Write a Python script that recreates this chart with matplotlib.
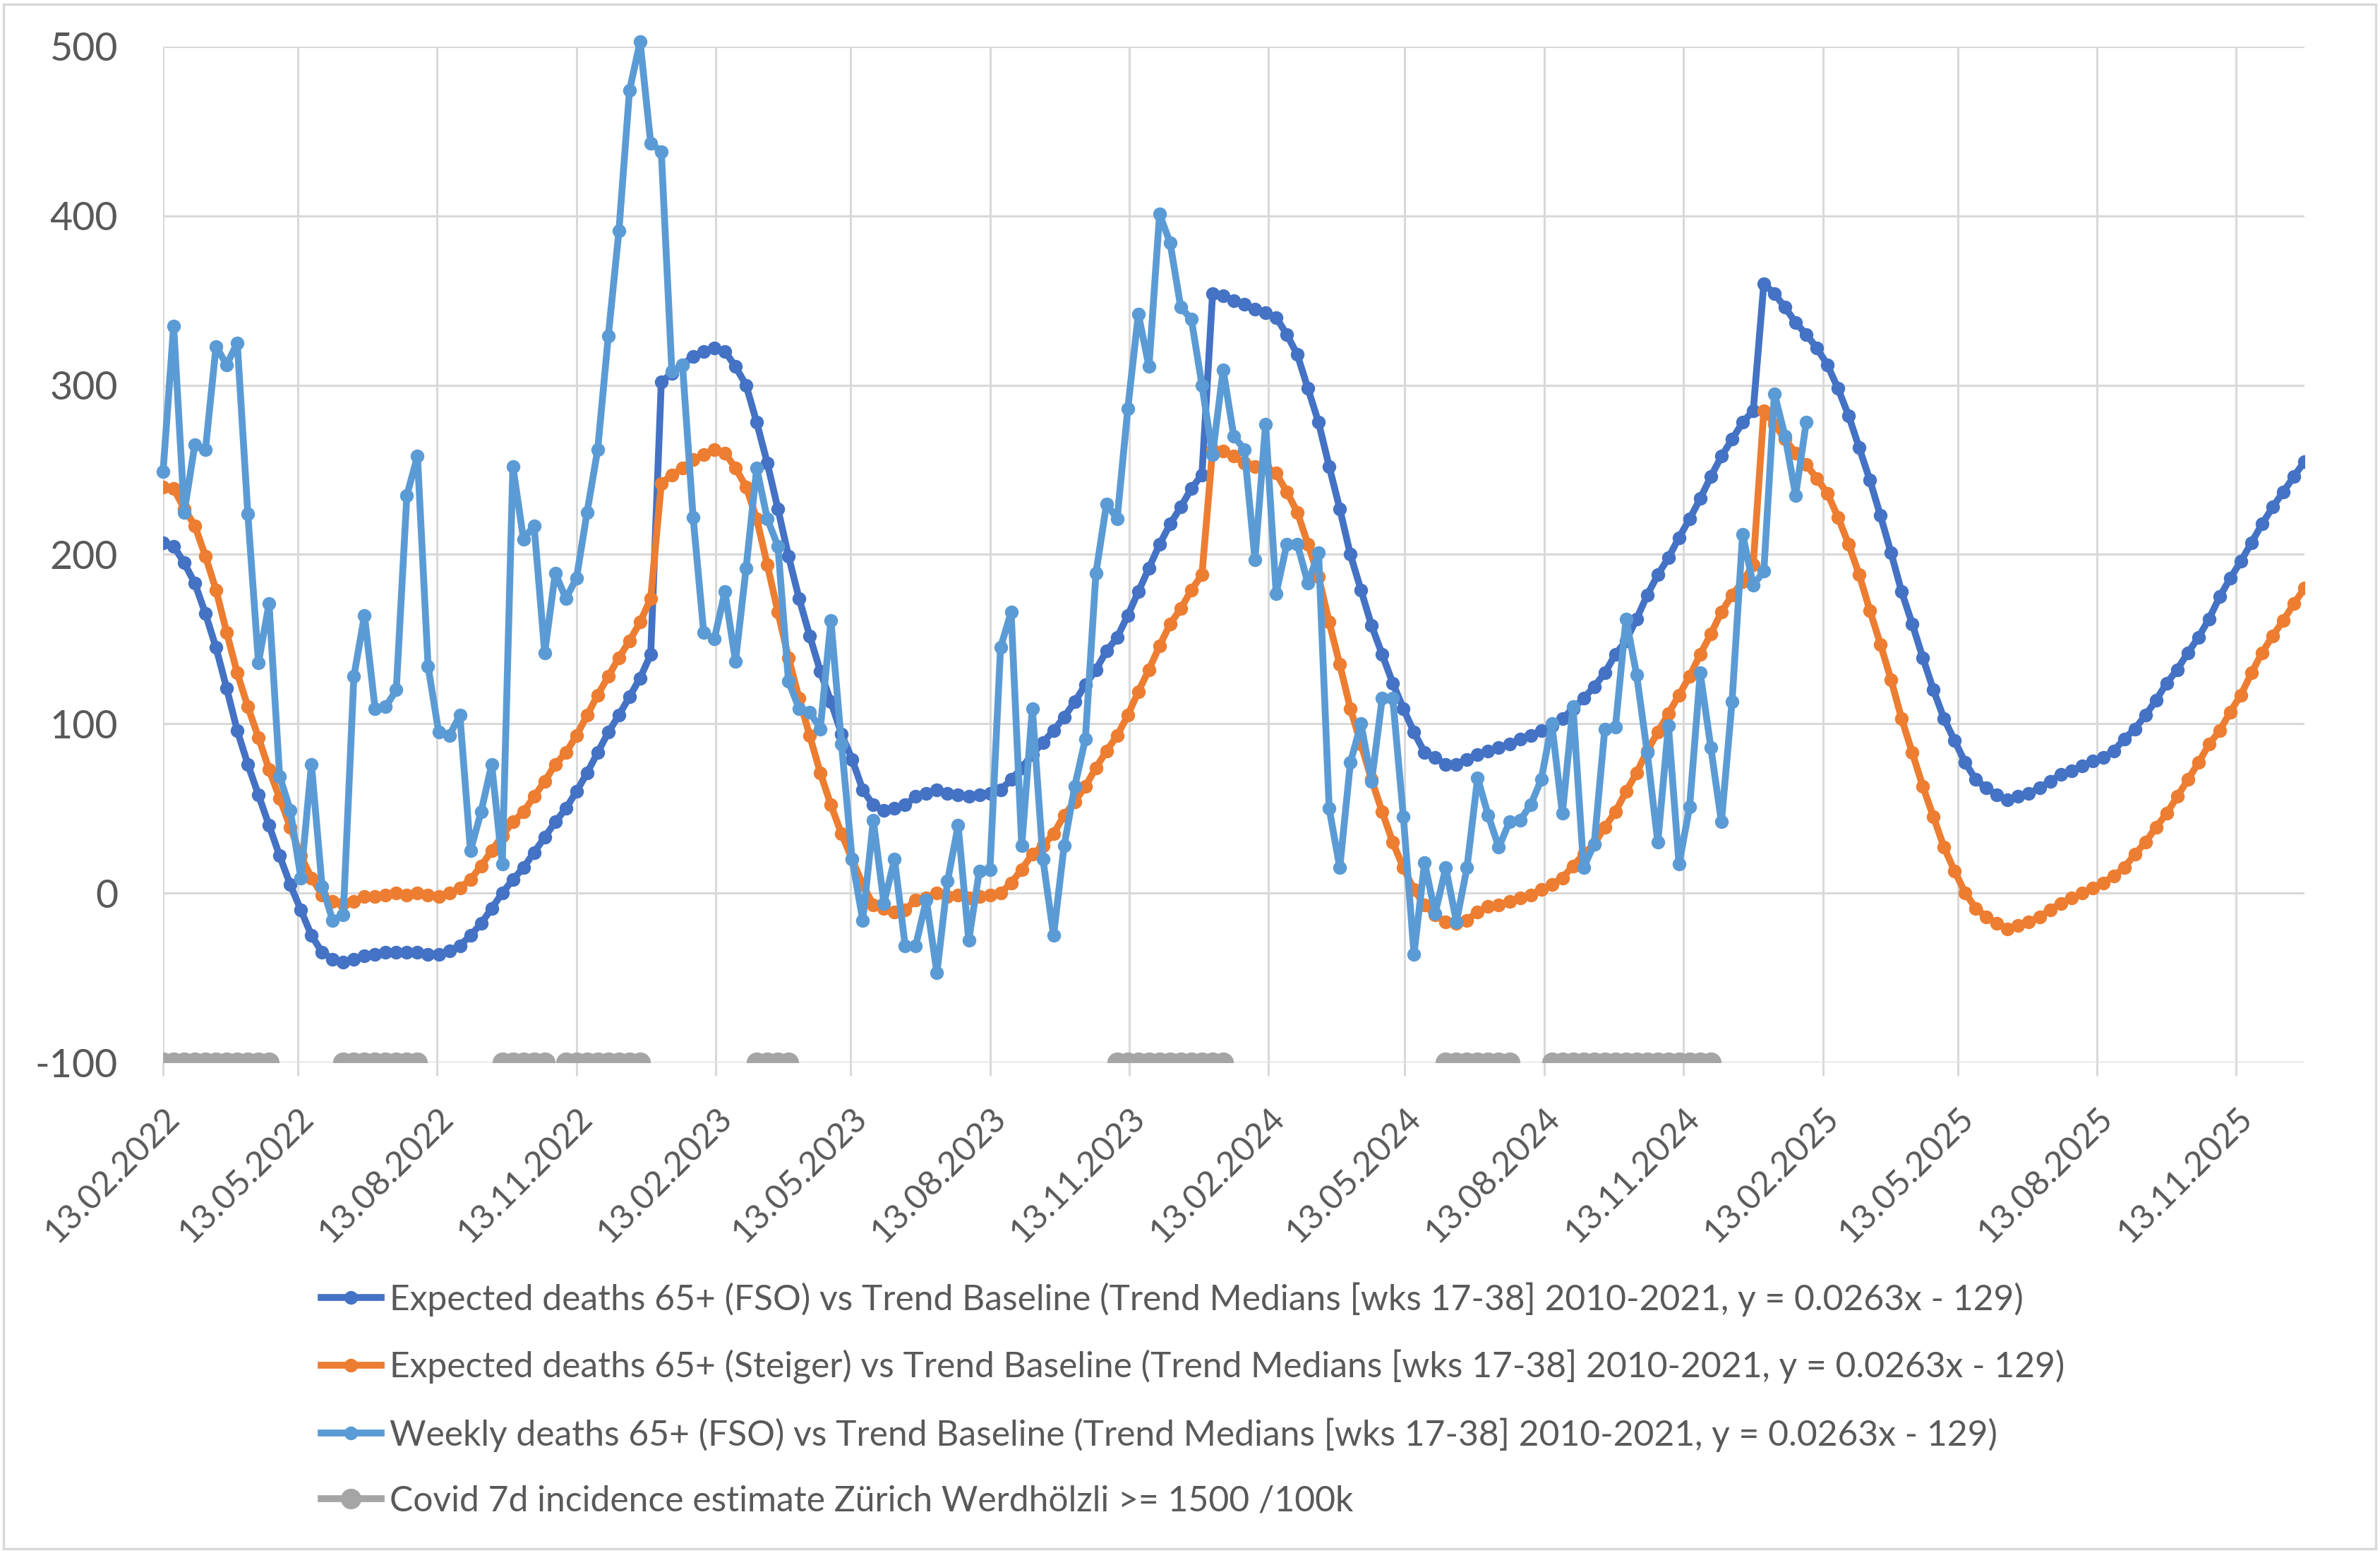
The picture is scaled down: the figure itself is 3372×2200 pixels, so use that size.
import matplotlib.pyplot as plt
import matplotlib.transforms as mtransforms
from matplotlib.patches import Rectangle
import numpy as np
import pandas as pd

plt.rcParams['font.family'] = ['Lato', 'DejaVu Sans']
plt.rcParams['axes.unicode_minus'] = False

# %% Data (weekly, starting Sunday 13.02.2022)
start = pd.Timestamp("2022-02-13")
weeks = pd.date_range(start, periods=203, freq="7D")

fso_expected = [
    207, 205, 195, 183, 165, 145, 121, 96, 76, 58, 40, 22, 5, -10, -25, -35, -39, -41, -39, -37,
    -36, -35, -35, -35, -35, -36, -36, -34, -31, -25, -18, -9, 0, 8, 15, 24, 33, 42, 50, 60,
    71, 83, 95, 105, 116, 127, 141, 302, 307, 312, 317, 320, 322, 320, 311, 300, 278, 254, 227, 199,
    174, 152, 131, 113, 94, 79, 61, 52, 49, 50, 52, 57, 59, 61, 59, 58, 57, 58, 59, 61,
    67, 74, 82, 89, 96, 104, 113, 123, 132, 143, 151, 164, 178, 192, 206, 218, 228, 239, 247, 354,
    353, 350, 348, 345, 343, 340, 330, 318, 298, 278, 252, 227, 200, 179, 158, 141, 124, 109, 95, 83,
    80, 76, 76, 79, 82, 84, 86, 88, 91, 93, 96, 99, 103, 109, 115, 122, 130, 141, 149, 162,
    176, 188, 198, 210, 221, 233, 246, 258, 268, 278, 285, 360, 354, 346, 337, 330, 322, 312, 298, 282,
    263, 244, 223, 201, 178, 159, 139, 120, 103, 90, 77, 67, 62, 58, 55, 57, 59, 62, 66, 70,
    72, 75, 78, 80, 84, 91, 97, 105, 114, 124, 132, 142, 151, 162, 175, 186, 196, 207, 218, 228,
    237, 246, 255,
]

steiger_expected = [
    240, 239, 227, 217, 199, 179, 154, 130, 110, 92, 73, 56, 39, 22, 9, -1, -5, -6, -5, -2,
    -2, -1, 0, -1, 0, -1, -2, 0, 3, 8, 16, 25, 34, 42, 48, 57, 66, 76, 83, 93,
    105, 117, 128, 139, 149, 160, 174, 242, 247, 251, 256, 259, 262, 260, 251, 240, 221, 194, 166, 139,
    115, 93, 71, 52, 35, 20, 5, -7, -9, -11, -10, -4, -3, 0, -2, -1, -3, -2, -1, 0,
    6, 14, 23, 28, 35, 46, 54, 63, 74, 84, 93, 105, 119, 132, 146, 159, 168, 179, 188, 262,
    261, 258, 254, 252, 251, 248, 237, 225, 206, 187, 160, 135, 109, 88, 67, 48, 30, 15, 2, -7,
    -13, -17, -18, -16, -11, -8, -7, -5, -3, -1, 2, 5, 9, 16, 23, 29, 39, 48, 60, 71,
    84, 95, 106, 117, 128, 141, 153, 166, 176, 184, 194, 285, 277, 268, 260, 253, 245, 236, 222, 206,
    188, 167, 147, 126, 103, 83, 63, 45, 27, 13, 0, -9, -14, -18, -21, -19, -17, -14, -10, -6,
    -3, 0, 3, 6, 10, 15, 23, 30, 39, 47, 57, 67, 77, 88, 96, 107, 117, 130, 142, 152,
    161, 171, 180,
]

weekly_deaths = [
    249, 335, 225, 265, 262, 323, 312, 325, 224, 136, 171, 69, 49, 9, 76, 4, -16, -13, 128, 164,
    109, 110, 120, 235, 258, 134, 95, 93, 105, 25, 48, 76, 17, 252, 209, 217, 142, 189, 174, 186,
    225, 262, 329, 391, 474, 503, 443, 438, 308, 312, 222, 154, 150, 178, 137, 192, 251, 221, 205, 125,
    109, 107, 97, 161, 88, 20, -16, 43, -6, 20, -31, -31, -4, -47, 7, 40, -28, 13, 14, 145,
    166, 28, 109, 20, -25, 28, 63, 91, 189, 230, 221, 286, 342, 311, 401, 384, 346, 339, 300, 259,
    309, 270, 262, 197, 277, 177, 206, 206, 183, 201, 50, 15, 77, 100, 66, 115, 115, 45, -36, 18,
    -12, 15, -17, 15, 68, 46, 27, 42, 43, 52, 67, 100, 47, 110, 15, 29, 97, 98, 162, 129,
    83, 30, 99, 17, 51, 130, 86, 42, 113, 212, 182, 190, 295, 270, 235, 278,
]

# weeks with Covid 7d incidence >= 1500/100k (first and last week of each period)
covid_periods = [
    ("2022-02-13", "2022-04-24"),
    ("2022-06-12", "2022-07-31"),
    ("2022-09-25", "2022-10-23"),
    ("2022-11-06", "2022-12-25"),
    ("2023-03-12", "2023-04-02"),
    ("2023-11-05", "2024-01-14"),
    ("2024-06-09", "2024-07-21"),
    ("2024-08-18", "2024-12-01"),
]

series_labels = [
    "Expected deaths 65+ (FSO) vs Trend Baseline (Trend Medians [wks 17-38] 2010-2021, y = 0.0263x - 129)",
    "Expected deaths 65+ (Steiger) vs Trend Baseline (Trend Medians [wks 17-38] 2010-2021, y = 0.0263x - 129)",
    "Weekly deaths 65+ (FSO) vs Trend Baseline (Trend Medians [wks 17-38] 2010-2021, y = 0.0263x - 129)",
    "Covid 7d incidence estimate Zürich Werdhölzli >= 1500 /100k",
]

covid = np.full(len(weeks), np.nan)
for a, b in covid_periods:
    covid[(weeks >= pd.Timestamp(a)) & (weeks <= pd.Timestamp(b))] = -100

tick_dates = [start + pd.DateOffset(months=3 * k) for k in range(16)]

# %% Plot
W, H = 3373, 2200
fig = plt.figure(figsize=(W / 200, H / 200), dpi=200)
ax = fig.add_axes([231 / W, 1 - 1505 / H, (3265 - 231) / W, (1505 - 66) / H])

lw = 3.5
ms = 6
ax.plot(weeks, fso_expected, color="#4472C4", lw=lw, marker="o", ms=ms, label=series_labels[0])
ax.plot(weeks, steiger_expected, color="#ED7D31", lw=lw, marker="o", ms=ms, label=series_labels[1])
ax.plot(weeks[:len(weekly_deaths)], weekly_deaths, color="#5B9BD5", lw=lw, marker="o", ms=ms,
        label=series_labels[2], clip_on=False)
ax.plot(weeks, covid, color="#A5A5A5", lw=lw, marker="o", ms=9.5, label=series_labels[3])

ax.set_ylim(-100, 500)
ax.set_yticks(range(-100, 501, 100))
ax.set_xlim(weeks[0], weeks[-1])
ax.set_xticks(tick_dates)
ax.set_xticklabels([d.strftime("%d.%m.%Y") for d in tick_dates], rotation=45,
                   ha="right", va="top", rotation_mode="anchor")
# nudge rotated date labels slightly left, like Excel
shift = mtransforms.ScaledTranslation(-4 / 72, 0, fig.dpi_scale_trans)
for lbl in ax.get_xticklabels():
    lbl.set_transform(lbl.get_transform() + shift)

ax.grid(True, color="#D9D9D9", lw=1.1)
ax.set_axisbelow(True)
for s in ax.spines.values():
    s.set_visible(False)
ax.tick_params(axis="x", length=7, width=1.1, color="#D9D9D9", pad=13,
               labelsize=17.5, labelcolor="#595959")
ax.tick_params(axis="y", length=0, pad=23, labelsize=20, labelcolor="#595959")

fig.legend(loc="center left", bbox_to_anchor=(455 / W, 1 - 1983 / H), frameon=False,
           fontsize=17.9, labelcolor="#595959", handlelength=1.7, handletextpad=0.25,
           labelspacing=0.95, borderpad=0, borderaxespad=0)

fig.patches.append(Rectangle((5 / W, 6 / H), 1 - 12 / W, 1 - 12 / H, transform=fig.transFigure,
                             fill=False, ec="#D9D9D9", lw=1.2))

fig.savefig("out.png", dpi=200)
